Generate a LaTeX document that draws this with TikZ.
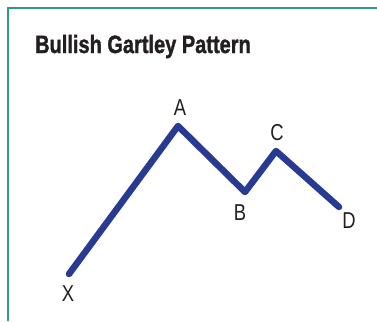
\documentclass[tikz,border=0pt]{standalone}
\usepackage{fontspec}
\setmainfont{Liberation Sans}
\newfontfamily\heavyfont[FakeBold=1.6]{Liberation Sans Bold}
\definecolor{frameteal}{HTML}{2E9A8C}
\definecolor{pathblue}{HTML}{283A92}
\definecolor{labelgray}{HTML}{231F20}
\tikzset{
  framestyle/.style={draw=frameteal, line width=2.2pt},
  legstyle/.style={draw=pathblue, line width=6.5pt, line cap=round, line join=round},
  ptlabel/.style={inner sep=0pt, text=labelgray, font=\fontsize{23}{23}\selectfont, xscale=0.8},
  titlestyle/.style={inner sep=0pt, anchor=base west, text=labelgray, font=\heavyfont\fontsize{25}{25}\selectfont, xscale=0.8}
}
\begin{document}
\begin{tikzpicture}[x=1pt,y=-1pt]
\useasboundingbox (0,0) rectangle (377,321);
\draw[framestyle] (8,321) -- (8,8) -- (377,8);
\node[titlestyle] (title) at (35,53) {Bullish Gartley Pattern};
\coordinate (X) at (69,274);
\coordinate (A) at (178,126);
\coordinate (B) at (245,192);
\coordinate (C) at (276,151);
\coordinate (D) at (339,207);
\draw[legstyle] (X) -- (A) -- (B) -- (C) -- (D);
\node[ptlabel] (lX) at (68,294) {X};
\node[ptlabel] (lA) at (180,108) {A};
\node[ptlabel] (lB) at (240,213) {B};
\node[ptlabel] (lC) at (277,133) {C};
\node[ptlabel] (lD) at (349,221) {D};
\end{tikzpicture}
\end{document}
